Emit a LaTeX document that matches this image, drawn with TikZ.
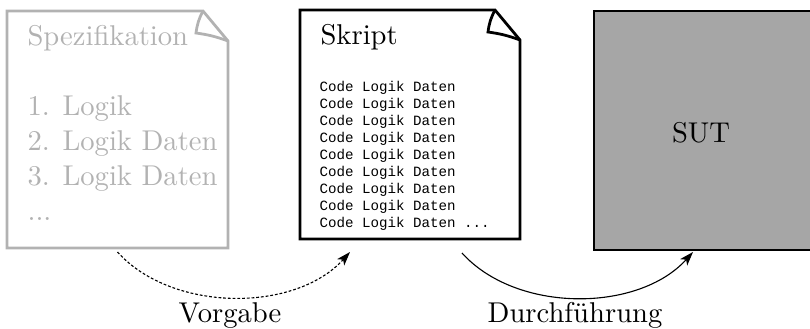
\documentclass[tikz,border=0pt]{standalone}
\usepackage{fontspec}
\newfontfamily\codefont{Liberation Mono}
\usetikzlibrary{calc,positioning,arrows.meta}

\tikzset{
  page/.style={minimum width=#1, outer sep=0pt, inner sep=0pt},
  pageline/.style={line width=1pt},
  doctext/.style={anchor=north west, inner sep=0pt, align=left, font=\fontsize{10.3}{12.6}\selectfont},
  lbl/.style={anchor=base, inner sep=0pt, font=\fontsize{10.3}{12.4}\selectfont},
  flow/.style={line width=0.4pt, -{Stealth[length=5pt,width=3.4pt,inset=1.3pt]}},
}

% page outline with a curled corner
\newcommand{\foldpage}[2]{%
  \draw[pageline,#2] (#1.north west) -- ($(#1.north east)+(-25,0)$) -- ($(#1.north east)+(0,-30)$)
    -- (#1.south east) -- (#1.south west) -- cycle;
  \draw[pageline,#2] ($(#1.north east)+(-25,0)$) to[bend right=10] ($(#1.north east)+(-32,-22)$)
    to[bend left=6] ($(#1.north east)+(0,-30)$);
}

\begin{document}
\begin{tikzpicture}[x=0.36pt,y=0.36pt]
    \useasboundingbox (0,0) rectangle (810,328);
    \node[page=79.56pt, minimum height=85.32pt] (spec) at (117.5,198.5) {};
    \node[page=79.2pt, minimum height=82.44pt] (skript) at (410,203.5) {};
    \node[page=78.84pt, minimum height=86.04pt, draw, line width=1pt, fill=black!35,
      font=\fontsize{10.3}{12.4}\selectfont] (sut) at (703.5,197.5) {};
    \node[font=\fontsize{10.3}{12.4}\selectfont] (suttxt) at (701,195) {SUT};

    \foldpage{spec}{black!30}
    \foldpage{skript}{black}

    \node[doctext, text=black!30] (spectxt) at ($(spec.north west)+(20,-14)$)
      {Spezifikation\\ \\1. Logik\\2. Logik Daten\\3. Logik Daten\\...};
    \node[doctext] (skripttxt) at ($(skript.north west)+(20,-14)$) {Skript};
    \node[doctext, font=\codefont\fontsize{5.1}{6.12}\selectfont] (code) at ($(skript.north west)+(19,-71)$)
      {Code Logik Daten\\Code Logik Daten\\Code Logik Daten\\Code Logik Daten\\Code Logik Daten\\
       Code Logik Daten\\Code Logik Daten\\Code Logik Daten\\Code Logik Daten ...};

    \coordinate (v1) at ($(spec.south)+(0,-4)$);
    \coordinate (v2) at ($(skript.south west)+(50,-13)$);
    \coordinate (d1) at ($(skript.south east)+(-58,-14)$);
    \coordinate (d2) at ($(sut.south west)+(99,-2)$);
    \draw[flow, dash pattern=on 1pt off 0.7pt] (v1) to[out=-48,in=-132,looseness=0.9] (v2);
    \draw[flow] (d1) to[out=-48,in=-132,looseness=0.9] (d2);

    \node[lbl] (vorgabe) at (230,6) {Vorgabe};
    \node[lbl] (durch) at (575,6) {Durchführung};
\end{tikzpicture}
\end{document}
